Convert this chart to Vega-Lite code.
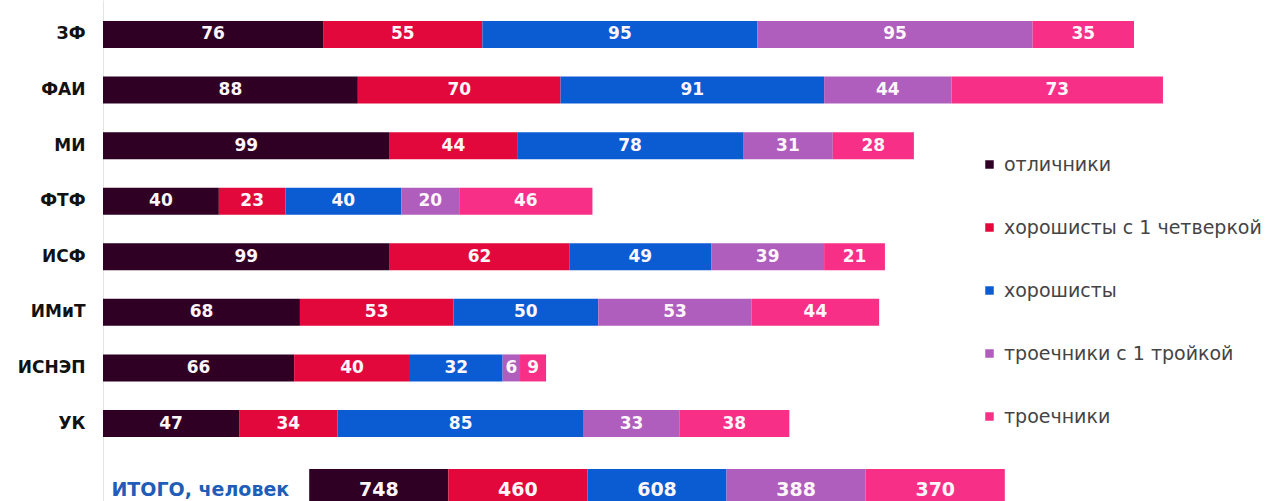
{
  "$schema": "https://vega.github.io/schema/vega-lite/v6.json",
  "width": 1273,
  "height": 501,
  "autosize": {"type": "fit", "contains": "padding"},
  "padding": 0,
  "background": "white",
  "config": {"view": {"stroke": null}, "font": "DejaVu Sans"},
  "datasets": {
    "fac": [
      {"row": "ЗФ", "cat": "отличники", "v": 76},
      {"row": "ЗФ", "cat": "хорошисты с 1 четверкой", "v": 55},
      {"row": "ЗФ", "cat": "хорошисты", "v": 95},
      {"row": "ЗФ", "cat": "троечники с 1 тройкой", "v": 95},
      {"row": "ЗФ", "cat": "троечники", "v": 35},
      {"row": "ФАИ", "cat": "отличники", "v": 88},
      {"row": "ФАИ", "cat": "хорошисты с 1 четверкой", "v": 70},
      {"row": "ФАИ", "cat": "хорошисты", "v": 91},
      {"row": "ФАИ", "cat": "троечники с 1 тройкой", "v": 44},
      {"row": "ФАИ", "cat": "троечники", "v": 73},
      {"row": "МИ", "cat": "отличники", "v": 99},
      {"row": "МИ", "cat": "хорошисты с 1 четверкой", "v": 44},
      {"row": "МИ", "cat": "хорошисты", "v": 78},
      {"row": "МИ", "cat": "троечники с 1 тройкой", "v": 31},
      {"row": "МИ", "cat": "троечники", "v": 28},
      {"row": "ФТФ", "cat": "отличники", "v": 40},
      {"row": "ФТФ", "cat": "хорошисты с 1 четверкой", "v": 23},
      {"row": "ФТФ", "cat": "хорошисты", "v": 40},
      {"row": "ФТФ", "cat": "троечники с 1 тройкой", "v": 20},
      {"row": "ФТФ", "cat": "троечники", "v": 46},
      {"row": "ИСФ", "cat": "отличники", "v": 99},
      {"row": "ИСФ", "cat": "хорошисты с 1 четверкой", "v": 62},
      {"row": "ИСФ", "cat": "хорошисты", "v": 49},
      {"row": "ИСФ", "cat": "троечники с 1 тройкой", "v": 39},
      {"row": "ИСФ", "cat": "троечники", "v": 21},
      {"row": "ИМиТ", "cat": "отличники", "v": 68},
      {"row": "ИМиТ", "cat": "хорошисты с 1 четверкой", "v": 53},
      {"row": "ИМиТ", "cat": "хорошисты", "v": 50},
      {"row": "ИМиТ", "cat": "троечники с 1 тройкой", "v": 53},
      {"row": "ИМиТ", "cat": "троечники", "v": 44},
      {"row": "ИСНЭП", "cat": "отличники", "v": 66},
      {"row": "ИСНЭП", "cat": "хорошисты с 1 четверкой", "v": 40},
      {"row": "ИСНЭП", "cat": "хорошисты", "v": 32},
      {"row": "ИСНЭП", "cat": "троечники с 1 тройкой", "v": 6},
      {"row": "ИСНЭП", "cat": "троечники", "v": 9},
      {"row": "УК", "cat": "отличники", "v": 47},
      {"row": "УК", "cat": "хорошисты с 1 четверкой", "v": 34},
      {"row": "УК", "cat": "хорошисты", "v": 85},
      {"row": "УК", "cat": "троечники с 1 тройкой", "v": 33},
      {"row": "УК", "cat": "троечники", "v": 38}
    ],
    "tot": [
      {"row": "ИТОГО", "cat": "отличники", "v": 748},
      {"row": "ИТОГО", "cat": "хорошисты с 1 четверкой", "v": 460},
      {"row": "ИТОГО", "cat": "хорошисты", "v": 608},
      {"row": "ИТОГО", "cat": "троечники с 1 тройкой", "v": 388},
      {"row": "ИТОГО", "cat": "троечники", "v": 370}
    ],
    "ttl": [
      {"row": "ИТОГО", "label": "ИТОГО, человек", "cat": "отличники"}
    ]
  },
  "encoding": {
    "y": {
      "field": "row",
      "type": "nominal",
      "scale": {
        "domain": ["ЗФ", "ФАИ", "МИ", "ФТФ", "ИСФ", "ИМиТ", "ИСНЭП", "УК", "ИТОГО"],
        "paddingInner": 0.514,
        "paddingOuter": 0.2645,
        "align": 0.714
      },
      "axis": {
        "title": null,
        "ticks": false,
        "labelExpr": "datum.value == 'ИТОГО' ? '' : datum.value",
        "labelFont": "DejaVu Sans",
        "labelFontWeight": "bold",
        "labelFontSize": 17,
        "labelColor": "#111111",
        "labelPadding": 18,
        "domainColor": "#e4e4e4",
        "minExtent": 103,
        "maxExtent": 103
      }
    }
  },
  "layer": [
    {
      "data": {"name": "fac"},
      "transform": [
        {"calculate": "indexof(['отличники', 'хорошисты с 1 четверкой', 'хорошисты', 'троечники с 1 тройкой', 'троечники'], datum.cat)", "as": "k"},
        {"stack": "v", "groupby": ["row"], "sort": [{"field": "k", "order": "ascending"}], "as": ["v0", "v1"]},
        {"calculate": "(datum.v0 + datum.v1) / 2", "as": "mid"}
      ],
      "layer": [
        {
          "mark": {"type": "bar"},
          "encoding": {
            "x": {
              "field": "v0",
              "type": "quantitative",
              "scale": {"domain": [0, 404], "nice": false, "zero": true},
              "axis": null
            },
            "x2": {"field": "v1"},
            "color": {
              "field": "cat",
              "type": "nominal",
              "sort": ["отличники", "хорошисты с 1 четверкой", "хорошисты", "троечники с 1 тройкой", "троечники"],
              "scale": {
                "domain": ["отличники", "хорошисты с 1 четверкой", "хорошисты", "троечники с 1 тройкой", "троечники"],
                "range": ["#2f0023", "#e2083b", "#0b5cd3", "#b05ebd", "#f72f86"]
              },
              "legend": {
                "title": null,
                "orient": "none",
                "legendX": 877,
                "legendY": 155,
                "symbolType": "square",
                "symbolSize": 72,
                "symbolStrokeWidth": 0,
                "labelFont": "DejaVu Sans",
                "labelFontSize": 19,
                "labelColor": "#444444",
                "labelLimit": 400,
                "labelOffset": 5,
                "rowPadding": 43
              }
            }
          }
        },
        {
          "mark": {"type": "text", "color": "#fdf6fb", "fontWeight": "bold", "fontSize": 17, "font": "DejaVu Sans"},
          "encoding": {
            "x": {"field": "mid", "type": "quantitative"},
            "text": {"field": "v", "type": "quantitative"}
          }
        }
      ]
    },
    {
      "encoding": {
        "x": {
          "field": "cat",
          "type": "nominal",
          "scale": {
            "domain": ["_l", "отличники", "хорошисты с 1 четверкой", "хорошисты", "троечники с 1 тройкой", "троечники", "_r"],
            "paddingInner": 0,
            "paddingOuter": 0.705,
            "align": 0.342
          },
          "axis": null
        }
      },
      "layer": [
        {
          "data": {"name": "tot"},
          "mark": {"type": "bar", "height": 42, "width": {"band": 1}, "yOffset": 11, "clip": true},
          "encoding": {
            "color": {"field": "cat", "type": "nominal"}
          }
        },
        {
          "data": {"name": "tot"},
          "mark": {"type": "text", "color": "#fdf6fb", "fontSize": 19, "fontWeight": "bold", "font": "DejaVu Sans", "yOffset": 11},
          "encoding": {
            "text": {"field": "v", "type": "quantitative"}
          }
        },
        {
          "data": {"name": "ttl"},
          "mark": {"type": "text", "color": "#1f5db8", "fontSize": 19, "fontWeight": "bold", "font": "DejaVu Sans", "align": "right", "dx": -20, "yOffset": 11},
          "encoding": {
            "x": {"field": "cat", "type": "nominal", "bandPosition": 0},
            "text": {"field": "label", "type": "nominal"}
          }
        }
      ]
    }
  ],
  "resolve": {"scale": {"x": "independent"}}
}
